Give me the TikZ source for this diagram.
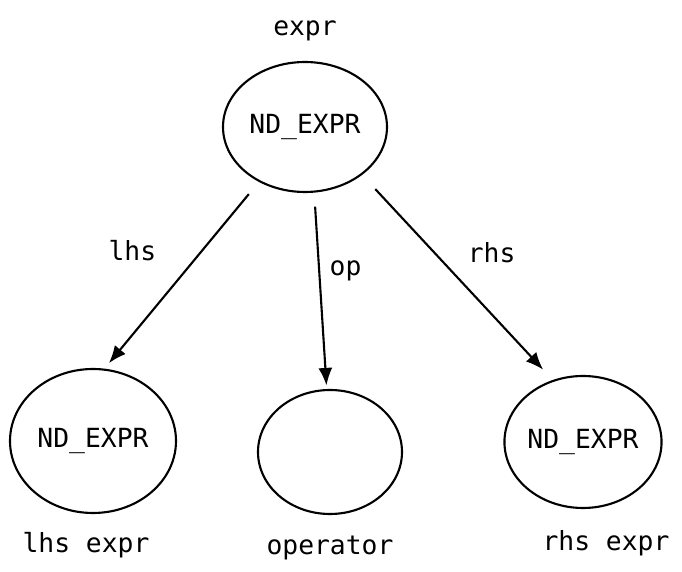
\documentclass[tikz,border=0pt]{standalone}
\usepackage{fontspec}
\setmonofont{DejaVu Sans Mono}
\usepackage{tikz}
\usetikzlibrary{shapes,arrows.meta,positioning}

\tikzset{
  nd/.style={draw, ellipse, line width=1.2pt, inner sep=0pt},
  link/.style={-{Latex[length=10pt,width=8pt]}, line width=1.2pt},
}

\begin{document}
\begin{tikzpicture}[font=\ttfamily\fontsize{15}{18}\selectfont, node distance=2cm]
\useasboundingbox (0,0) rectangle (13.64,-11.44);
\node[nd, minimum width=3.28cm, minimum height=2.6cm] (e) at (6.1,-2.54) {ND\_EXPR};
\node[nd, minimum width=3.32cm, minimum height=2.88cm] (lhs) at (1.86,-8.82) {ND\_EXPR};
\node[nd, minimum width=2.88cm, minimum height=2.48cm] (op) at (6.6,-9.04) {};
\node[nd, minimum width=3.08cm, minimum height=2.64cm] (rhs) at (11.66,-8.84) {ND\_EXPR};
\draw[link, shorten <=9pt, shorten >=4pt] (e.230) -- node[pos=0.37, left=22pt] {lhs} (lhs.81);
\draw[link, shorten <=8pt, shorten >=2pt] (e.278) -- node[pos=0.4, right=2pt] {op} (op.93);
\draw[link, shorten <=11pt, shorten >=8pt] (e.320) -- node[pos=0.38, right=15pt] {rhs} (rhs.116);
\node[above of=e, node distance=1.92cm] {expr};
\node[below of=lhs, node distance=2.08cm, xshift=-0.14cm] {lhs expr};
\node[below of=op, node distance=1.92cm] {operator};
\node[below of=rhs, node distance=2.02cm, xshift=0.46cm] {rhs expr};
\end{tikzpicture}
\end{document}
